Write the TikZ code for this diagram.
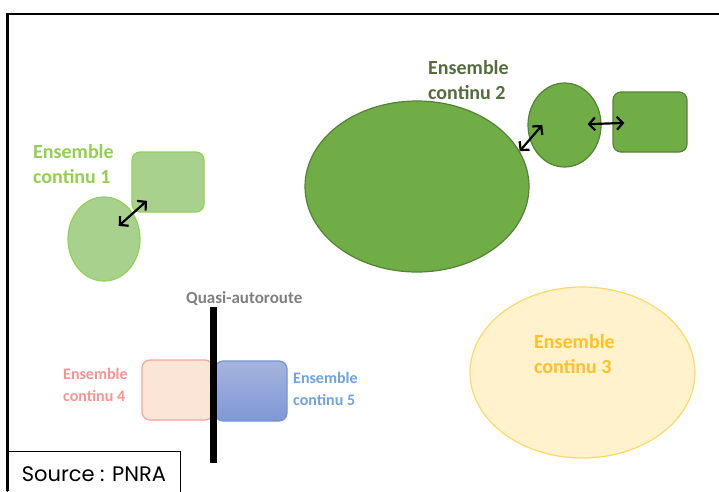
\documentclass[tikz,border=0pt]{standalone}
\usepackage{fontspec}
\setmainfont{Carlito}
\newfontfamily\sourcefont{Poppins}
\usetikzlibrary{arrows.meta,shapes.geometric,calc}

\definecolor{lightgreen}{HTML}{A9D18E}
\definecolor{lightgreenline}{HTML}{92D050}
\definecolor{midgreen}{HTML}{70AD47}
\definecolor{midgreenline}{HTML}{548235}
\definecolor{labelgreen}{HTML}{566B3E}
\definecolor{paleyellow}{HTML}{FFF2CC}
\definecolor{yellowline}{HTML}{FFD966}
\definecolor{labelyellow}{HTML}{FFC125}
\definecolor{palepink}{HTML}{FBE5D6}
\definecolor{pinkline}{HTML}{FF9F9F}
\definecolor{labelpink}{HTML}{FF9090}
\definecolor{bluetop}{HTML}{A6B5DE}
\definecolor{bluebottom}{HTML}{7F97D6}
\definecolor{blueline}{HTML}{7393D3}
\definecolor{labelblue}{HTML}{6FA3DF}
\definecolor{roadgray}{HTML}{808080}

\tikzset{
  zone/.style={draw, line width=1.2pt, inner sep=0pt},
  blob/.style={zone, ellipse},
  box/.style={zone, rectangle, rounded corners=8pt},
  biarrow/.style={{Straight Barb[length=6pt,width=13pt]}-{Straight Barb[length=6pt,width=13pt]}, line width=2.2pt},
  biglabel/.style={font=\bfseries\fontsize{20}{25}\selectfont, align=left, inner sep=0pt},
  smalllabel/.style={font=\bfseries\fontsize{16}{21.5}\selectfont, align=left, inner sep=0pt}
}

\begin{document}
\begin{tikzpicture}[x=1pt,y=-1pt]

\useasboundingbox (0,0) rectangle (719,491);

% Frame
\draw[line width=2.2pt] (7.5,491) -- (7.5,14) -- (719,14);

% Ensemble continu 1 (base = baseline of the last line)
\node[blob, fill=lightgreen, draw=lightgreenline, minimum width=72, minimum height=84] (e1) at (104,239) {};
\node[box, fill=lightgreen, draw=lightgreenline, minimum width=72, minimum height=60] (r1) at (168,182) {};
\draw[biarrow] ($(e1)!0.23!(r1)$) -- ($(e1)!0.67!(r1)$);
\node[biglabel, lightgreenline, anchor=base west] (lab1) at (33,183) {Ensemble\\continu 1};

% Ensemble continu 2
\node[blob, fill=midgreen, draw=midgreenline, minimum width=224, minimum height=171] (e2) at (417,186.5) {};
\node[blob, fill=midgreen, draw=midgreenline, minimum width=73, minimum height=84] (e2s) at (564.5,125) {};
\node[box, fill=midgreen, draw=midgreenline, minimum width=74, minimum height=60] (r2) at (650,122) {};
\draw[biarrow] (e2.19) -- ($(e2s.center)!0.6!(e2s.west)$);
\draw[biarrow] ($(e2s)!0.27!(r2)$) -- ($(e2s)!0.7!(r2)$);
\node[biglabel, labelgreen, anchor=base west] (lab2) at (428,99) {Ensemble\\continu 2};

% Ensemble continu 3
\node[blob, fill=paleyellow, draw=yellowline, minimum width=225, minimum height=171] (e3) at (582.5,372.5) {};
\node[biglabel, labelyellow, anchor=base west] (lab3) at (534,373) {Ensemble\\continu 3};

% Ensembles continus 4 et 5
\node[box, fill=palepink, draw=pinkline, minimum width=71, minimum height=60] (r4) at (177.5,390) {};
\node[box, top color=bluetop, bottom color=bluebottom, draw=blueline, minimum width=72, minimum height=60] (r5) at (251,391) {};
\node[smalllabel, labelpink, anchor=base west] (lab4) at (63,401) {Ensemble\\continu 4};
\node[smalllabel, labelblue, anchor=base west] (lab5) at (293,405) {Ensemble\\continu 5};

% Quasi-autoroute
\node[fill=black, inner sep=0pt, minimum width=7, minimum height=156] (road) at (213,385) {};
\node[font=\bfseries\fontsize{17}{19}\selectfont, roadgray, inner sep=0pt, anchor=base west] (roadlab) at (186,303) {Quasi-autoroute};

% Source
\node[draw, line width=0.8pt, anchor=north west, minimum width=173, minimum height=45, inner sep=0pt,
      font=\sourcefont\fontsize{21}{23}\selectfont] (source) at (7,451) {Source : PNRA};

\end{tikzpicture}
\end{document}
